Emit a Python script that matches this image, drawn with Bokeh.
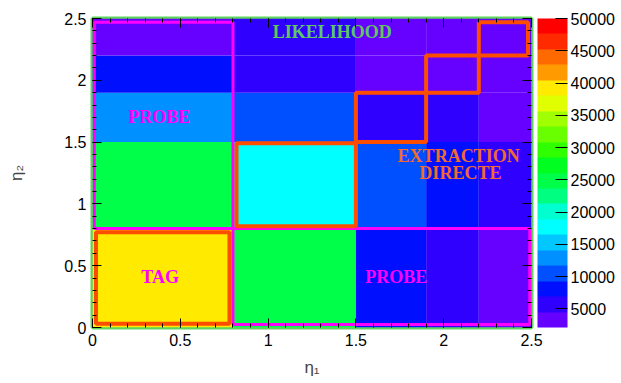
from bokeh.plotting import figure
from bokeh.models import (ColumnDataSource, LinearColorMapper, ColorBar, FixedTicker,
                          LinearAxis, Range1d, SingleIntervalTicker, CustomJSTickFormatter)
from bokeh.transform import transform
from bokeh.core.properties import value
from bokeh.embed import file_html
from bokeh.resources import INLINE

# ---- data ----
eta_edges = [0.0, 0.8, 1.5, 1.9, 2.2, 2.5]
# counts per eta1 bin (columns), listed from lowest eta2 bin to highest
counts_eta1_bin0 = [39200, 24800, 12800, 8100, 3300]
counts_eta1_bin1 = [24800, 17600, 10400, 5600, 5200]
counts_eta1_bin2 = [8000, 10300, 5700, 3800, 3400]
counts_eta1_bin3 = [5500, 7900, 5400, 3500, 3000]
counts_eta1_bin4 = [3700, 5300, 3200, 2900, 2300]
counts = [counts_eta1_bin0, counts_eta1_bin1, counts_eta1_bin2, counts_eta1_bin3, counts_eta1_bin4]

palette = ["#6600ff", "#3000ff", "#0010ff", "#0050ff", "#0090ff", "#00c8ff", "#00ffff",
           "#00ffd0", "#00ff80", "#00ff48", "#00ff20", "#30ff00", "#6aff00", "#a0ff00",
           "#e0ff00", "#ffea00", "#ff9a00", "#ff6a00", "#ff2a00", "#ff0000"]
z_low, z_high = 2100, 50000
cbar_ticks = [5000, 10000, 15000, 20000, 25000, 30000, 35000, 40000, 45000, 50000]

# region boxes (eta1 from/to, eta2 from/to)
probe_left = [0.01, 0.8, 0.8, 2.47]
probe_right = [0.8, 2.49, 0.025, 0.8]
tag_box = [0.02, 0.78, 0.03, 0.77]
direct_boxes = [[0.82, 1.5, 0.82, 1.49], [1.5, 1.9, 1.5, 1.9], [1.9, 2.2, 1.9, 2.2], [2.2, 2.48, 2.2, 2.47]]

label_text = ["LIKELIHOOD", "PROBE", "TAG", "PROBE", "EXTRACTION", "DIRECTE"]
label_x = [1.365, 0.38, 0.385, 1.73, 2.085, 2.095]
label_y = [2.39, 1.70, 0.405, 0.405, 1.39, 1.25]
label_color = ["#5fc95f", "#ff00ff", "#ff00ff", "#ff00ff", "#f26a2e", "#f26a2e"]

x_title, y_title = "η₁", "η₂"

# ---- build cells ----
left, right, bottom, top, z = [], [], [], [], []
for i in range(5):
    for j in range(5):
        left.append(eta_edges[i]); right.append(eta_edges[i + 1])
        bottom.append(eta_edges[j]); top.append(eta_edges[j + 1])
        z.append(counts[i][j])
src = ColumnDataSource(dict(left=left, right=right, bottom=bottom, top=top, z=z))
mapper = LinearColorMapper(palette=palette, low=z_low, high=z_high)

p = figure(width=621, height=381, x_range=Range1d(0, 2.5), y_range=Range1d(0, 2.5),
           output_backend="svg", toolbar_location=None,
           min_border_left=92, min_border_top=18, min_border_bottom=54, min_border_right=90,
           x_axis_label=x_title, y_axis_label=y_title)
p.grid.visible = False
p.background_fill_color = "white"
p.border_fill_color = "white"

p.quad(left="left", right="right", bottom="bottom", top="top", source=src,
       fill_color=transform("z", mapper), line_color=None)

def boxes(rects, color, width):
    p.quad(left=[r[0] for r in rects], right=[r[1] for r in rects],
           bottom=[r[2] for r in rects], top=[r[3] for r in rects],
           fill_color=None, line_color=color, line_width=width)

boxes([probe_left, probe_right], "#ff00ff", 3)
boxes([tag_box] + direct_boxes, "#ff4d00", 4)

p.text(x=label_x, y=label_y, text=label_text, text_color=label_color,
       text_font=value("Liberation Serif"), text_font_style="bold", text_font_size="18px",
       text_align="center", text_baseline="middle")

p.outline_line_color = "#5fd35f"
p.outline_line_width = 4

fmt = CustomJSTickFormatter(code="return Number(tick.toFixed(2)).toString();")
for ax in (p.xaxis[0], p.yaxis[0]):
    ax.ticker = SingleIntervalTicker(interval=0.5, num_minor_ticks=5)
    ax.formatter = fmt
    ax.axis_line_color = None
    ax.major_tick_in = 9
    ax.major_tick_out = 0
    ax.minor_tick_in = 4
    ax.minor_tick_out = 0
    ax.major_label_text_font = "Liberation Sans"
    ax.major_label_text_font_size = "16px"
    ax.major_label_text_color = "black"
    ax.axis_label_text_font = "Liberation Sans"
    ax.axis_label_text_font_size = "17px"
    ax.axis_label_text_font_style = "normal"
p.xaxis[0].major_label_standoff = 6
p.xaxis[0].axis_label_standoff = 9
p.yaxis[0].major_label_standoff = 6
p.yaxis[0].axis_label_standoff = 35

blank = CustomJSTickFormatter(code="return '';")
for loc in ("above", "right"):
    ax = LinearAxis(ticker=SingleIntervalTicker(interval=0.5, num_minor_ticks=5), formatter=blank)
    ax.axis_line_color = None
    ax.major_tick_in = 9
    ax.major_tick_out = 0
    ax.minor_tick_in = 4
    ax.minor_tick_out = 0
    ax.major_label_standoff = 0
    p.add_layout(ax, loc)

cb = ColorBar(color_mapper=mapper, ticker=FixedTicker(ticks=cbar_ticks), width=30,
              location=(6, 0), padding=0, margin=0, major_tick_in=12, major_tick_out=0,
              major_tick_line_color="black", minor_tick_line_color=None,
              label_standoff=3, major_label_text_font="Liberation Sans",
              major_label_text_font_size="16px", major_label_text_color="black",
              bar_line_color=None, border_line_color=None, background_fill_color=None)
p.add_layout(cb, "right")

open("out.html", "w").write(file_html(p, INLINE))
